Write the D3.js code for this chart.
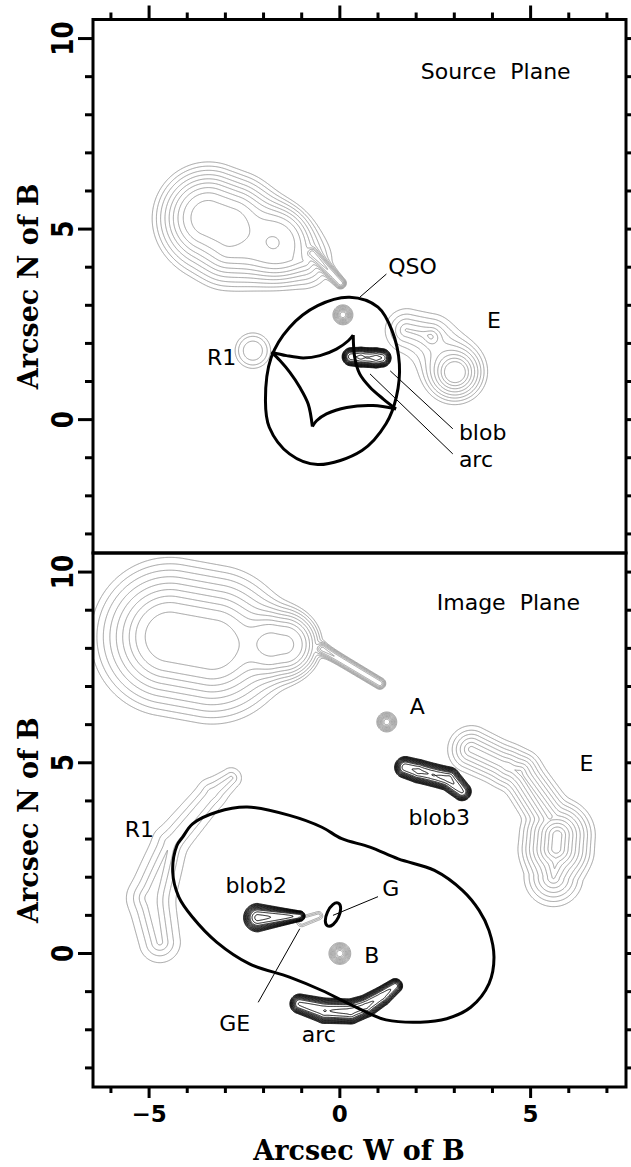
<!DOCTYPE html>
<html>
<head>
<meta charset="utf-8">
<script src="https://cdn.jsdelivr.net/npm/d3@7"></script>
<style>
body { margin: 0; background: #fff; }
svg { display: block; }
.lbl { font-family: "DejaVu Sans", sans-serif; font-size: 22px; fill: #000; }
.num { font-family: "DejaVu Sans", sans-serif; font-weight: bold; fill: #000; }
.title { font-family: "DejaVu Serif", serif; font-weight: bold; font-size: 27px; fill: #000; }
</style>
</head>
<body>
<div id="chart"></div>
<script>
// axis ticks
const xTicks = [-6, -5, -4, -3, -2, -1, 0, 1, 2, 3, 4, 5, 6, 7];
const xLabels = [-5, 0, 5];
const yTicks = [-3, -2, -1, 0, 1, 2, 3, 4, 5, 6, 7, 8, 9, 10];
const yLabels = [0, 5, 10];

// emission components, arcsec:
// [x1, y1, x2, y2, width1, width2, amp1, amp2, profile(1 = exponential, 2 = gaussian)]
// ---- source plane ----
const galaxySrc = [
  [-3.45, 5.3, -2.92, 5.1, 0.4, 0.4, 1.0, 1.0, 1],
  [-1.66, 4.69, -1.66, 4.69, 0.45, 0.45, 0.26, 0.26, 2],
  [-2.9, 4.4, -0.9, 4.15, 0.5, 0.5, 0.1, 0.1, 1],
  [-0.72, 4.37, 0.02, 3.58, 0.07, 0.07, 0.17, 0.17, 2]
];
const galaxySrcLevels = [0.0266, 0.035, 0.046, 0.061, 0.08, 0.105, 0.142, 0.2, 0.33];
const qsoSrc = [[0.08, 2.75, 0.08, 2.75, 0.11, 0.11, 1, 1, 2]];
const r1Src = [[-2.28, 1.81, -2.28, 1.81, 0.17, 0.17, 1, 1, 1]];
const r1SrcLevels = [0.065, 0.11, 0.23];
const eSrc = [
  [1.75, 2.35, 2.35, 2.2, 0.48, 0.48, 0.2, 0.2, 1],
  [2.42, 2.16, 2.42, 2.16, 0.12, 0.12, 0.06, 0.06, 2],
  [3.02, 1.24, 3.02, 1.24, 0.3, 0.3, 1.0, 1.0, 1]
];
const eSrcLevels = [0.063, 0.085, 0.111, 0.144, 0.189, 0.247, 0.322, 0.42];
const blobSrc = [
  [0.3, 1.65, 0.55, 1.64, 0.08, 0.085, 0.7, 0.9, 2],
  [0.55, 1.64, 0.72, 1.63, 0.085, 0.085, 0.9, 0.75, 2],
  [0.72, 1.63, 0.95, 1.62, 0.085, 0.085, 0.75, 1.0, 2],
  [0.95, 1.62, 1.1, 1.62, 0.085, 0.08, 1.0, 0.8, 2]
];

// ---- image plane ----
const galaxyImg = [
  [-4.45, 8.3, -3.35, 8.1, 0.62, 0.62, 1.0, 1.0, 1],
  [-1.72, 8.1, -1.42, 8.1, 0.42, 0.42, 0.36, 0.36, 2],
  [-0.45, 7.98, 1.05, 7.08, 0.085, 0.085, 0.17, 0.17, 2]
];
const galaxyImgLevels = [0.0346, 0.0454, 0.0595, 0.0785, 0.103, 0.135, 0.178, 0.234, 0.35];
const qsoA = [[1.23, 6.07, 1.23, 6.07, 0.11, 0.11, 1, 1, 2]];
const qsoB = [[0.0, 0.0, 0.0, 0.0, 0.12, 0.12, 1, 1, 2]];
const eImg = [
  [3.45, 5.35, 4.4, 4.9, 0.4, 0.38, 0.3, 0.3, 1],
  [4.4, 4.9, 4.72, 4.75, 0.38, 0.35, 0.3, 0.34, 1],
  [4.72, 4.75, 5.5, 3.6, 0.35, 0.36, 0.34, 0.38, 1],
  [5.7, 3.1, 5.67, 2.75, 0.36, 0.36, 1.0, 1.0, 1],
  [5.67, 2.6, 5.6, 2.0, 0.42, 0.45, 0.55, 0.35, 1]
];
const eImgLevels = [0.063, 0.085, 0.111, 0.144, 0.189, 0.247, 0.322, 0.42, 0.55, 0.72];
const r1Img = [
  [-4.72, 0.3, -4.95, 1.45, 0.26, 0.27, 0.8, 1.0, 1],
  [-4.95, 1.45, -4.45, 2.9, 0.27, 0.27, 1.0, 0.55, 1],
  [-4.45, 2.9, -3.35, 4.2, 0.27, 0.23, 0.55, 0.55, 1],
  [-3.35, 4.2, -2.85, 4.6, 0.23, 0.18, 0.55, 0.45, 1]
];
const r1ImgLevels = [0.1, 0.2, 0.35, 0.6];
const blob2 = [[-2.15, 0.94, -1.05, 0.98, 0.12, 0.05, 1.0, 0.35, 2]];
const blob3 = [
  [1.72, 4.88, 2.06, 4.78, 0.095, 0.1, 0.7, 0.9, 2],
  [2.06, 4.78, 2.45, 4.68, 0.1, 0.1, 0.9, 0.75, 2],
  [2.45, 4.68, 2.85, 4.58, 0.1, 0.1, 0.75, 1.0, 2],
  [2.85, 4.58, 3.2, 4.25, 0.1, 0.085, 1.0, 0.5, 2]
];
const geImg = [[-1.0, 0.84, -0.56, 0.99, 0.07, 0.06, 1.0, 0.8, 2]];
const geLevels = [0.15, 0.35, 0.6];
const arcImg = [
  [-1.05, -1.32, -0.4, -1.5, 0.09, 0.11, 0.5, 0.75, 2],
  [-0.4, -1.5, 0.28, -1.52, 0.11, 0.105, 0.75, 1.0, 2],
  [0.28, -1.52, 0.68, -1.38, 0.105, 0.095, 1.0, 0.95, 2],
  [0.68, -1.38, 1.1, -1.12, 0.095, 0.085, 0.95, 0.65, 2],
  [1.1, -1.12, 1.45, -0.85, 0.085, 0.07, 0.65, 0.35, 2]
];

const compactLevels = [0.06, 0.09, 0.13, 0.18, 0.25, 0.33, 0.42, 0.52, 0.65, 0.8];
const darkLevels = [0.008, 0.012, 0.018, 0.026, 0.038, 0.055, 0.08, 0.115, 0.165, 0.24, 0.45, 0.8];

// caustic (source plane): four cusped edges + outer oval
const causticEdges = [
  [[-1.79, 1.77], [-1.4, 1.68], [-0.96, 1.62], [-0.52, 1.68], [-0.09, 1.85], [0.22, 2.07], [0.35, 2.22]],
  [[0.35, 2.22], [0.39, 1.63], [0.52, 1.2], [0.79, 0.85], [1.14, 0.54], [1.47, 0.28]],
  [[1.47, 0.28], [0.87, 0.37], [0.18, 0.32], [-0.35, 0.15], [-0.61, -0.03], [-0.72, -0.18]],
  [[-0.72, -0.18], [-0.83, 0.41], [-1.05, 0.85], [-1.31, 1.24], [-1.57, 1.55], [-1.79, 1.77]]
];
const causticOval = [[0.26, 3.21], [1.0, 2.95], [1.37, 2.33], [1.56, 1.46], [1.48, 0.59], [1.21, -0.11],
  [0.58, -0.81], [-0.58, -1.18], [-1.32, -0.9], [-1.85, -0.2], [-1.95, 0.5], [-1.8, 1.63], [-1.32, 2.42], [-0.58, 2.99]];
// critical curve (image plane)
const criticalCurve = [[-2.43, 3.84], [-1.32, 3.62], [-0.47, 3.31], [0.05, 3.01], [0.79, 2.79], [1.53, 2.48],
  [2.48, 2.18], [3.22, 1.65], [3.65, 1.13], [3.91, 0.6], [4.04, -0.1], [3.91, -0.79], [3.43, -1.41], [2.8, -1.71],
  [2.11, -1.8], [1.21, -1.74], [0.79, -1.58], [0.16, -1.28], [-0.47, -0.97], [-1.32, -0.62], [-2.37, -0.27],
  [-3.23, 0.3], [-3.86, 0.95], [-4.22, 1.48], [-4.38, 2.13], [-4.27, 2.83], [-4.12, 3.05], [-3.86, 3.4], [-3.22, 3.71]];
// galaxy G outline: [x, y, rx, ry, tilt deg]
const galaxyG = [-0.18, 1.02, 0.16, 0.33, 25];

const labelsSrc = [["Source  Plane", 2.12, 8.95], ["QSO", 1.27, 3.83], ["E", 3.86, 2.4],
  ["R1", -3.48, 1.43], ["blob", 3.12, -0.54], ["arc", 3.12, -1.24]];
const labelsImg = [["Image  Plane", 2.54, 9.0], ["A", 1.83, 6.28], ["E", 6.28, 4.79], ["blob3", 1.8, 3.37],
  ["R1", -5.64, 3.05], ["blob2", -3.0, 1.59], ["G", 1.11, 1.51], ["B", 0.64, -0.26], ["GE", -3.16, -2.02], ["arc", -1.0, -2.31]];
const leadersSrc = [[0.52, 3.21, 1.22, 3.82], [1.32, 1.28, 2.96, -0.24], [0.79, 1.2, 2.96, -0.9]];
const leadersImg = [[-0.18, 1.0, 1.0, 1.49], [-1.05, 0.65, -2.14, -1.28]];

const GRAY = "#9e9e9e";

let svg = d3.select("#chart").append("svg").attr("width", 631).attr("height", 1167);

let x = d3.scaleLinear().domain([-6.47, 7.5]).range([93, 626]);
let yTop = d3.scaleLinear().domain([-3.5, 10.5]).range([553, 19.5]);
let yBot = d3.scaleLinear().domain([-3.5, 10.5]).range([1087, 553]);

let panels = [
  {id: "src", y: yTop, top: 19.5, bottom: 553,
   sets: [
     {comps: galaxySrc, levels: galaxySrcLevels, color: GRAY, p: 1},
     {comps: qsoSrc, levels: compactLevels, color: GRAY, p: 1},
     {comps: r1Src, levels: r1SrcLevels, color: GRAY, p: 1},
     {comps: eSrc, levels: eSrcLevels, color: GRAY, p: 1},
     {comps: blobSrc, levels: darkLevels, color: "#000", p: 8}
   ], labels: labelsSrc, leaders: leadersSrc},
  {id: "img", y: yBot, top: 553, bottom: 1087,
   sets: [
     {comps: galaxyImg, levels: galaxyImgLevels, color: GRAY, p: 1},
     {comps: qsoA, levels: compactLevels, color: GRAY, p: 1},
     {comps: qsoB, levels: compactLevels, color: GRAY, p: 1},
     {comps: eImg, levels: eImgLevels, color: GRAY, p: 8},
     {comps: r1Img, levels: r1ImgLevels, color: GRAY, p: 8},
     {comps: geImg, levels: geLevels, color: GRAY, p: 1},
     {comps: blob2, levels: darkLevels, color: "#000", p: 1},
     {comps: blob3, levels: darkLevels, color: "#000", p: 8},
     {comps: arcImg, levels: darkLevels, color: "#000", p: 8}
   ], labels: labelsImg, leaders: leadersImg}
];

function field(comps, p, px, py) {
  let v = 0;
  for (const [x1, y1, x2, y2, w1, w2, a1, a2, k] of comps) {
    let dx = x2 - x1, dy = y2 - y1, L2 = dx * dx + dy * dy;
    let t = L2 > 0 ? ((px - x1) * dx + (py - y1) * dy) / L2 : 0;
    t = Math.max(0, Math.min(1, t));
    let qx = x1 + t * dx, qy = y1 + t * dy;
    let d = Math.sqrt((px - qx) * (px - qx) + (py - qy) * (py - qy));
    let w = w1 + t * (w2 - w1), a = a1 + t * (a2 - a1);
    let f = k === 1 ? a * Math.exp(-d / w) : a * Math.exp(-0.5 * d * d / (w * w));
    v += Math.pow(f, p);
  }
  return Math.pow(v, 1 / p);
}

function contourSet(set) {
  const res = 0.02;
  let xmin = Infinity, xmax = -Infinity, ymin = Infinity, ymax = -Infinity;
  set.comps.forEach(c => {
    let pad = (c[8] === 1 ? 7 : 3.8) * Math.max(c[4], c[5]);
    xmin = Math.min(xmin, c[0] - pad, c[2] - pad); xmax = Math.max(xmax, c[0] + pad, c[2] + pad);
    ymin = Math.min(ymin, c[1] - pad, c[3] - pad); ymax = Math.max(ymax, c[1] + pad, c[3] + pad);
  });
  let nx = Math.ceil((xmax - xmin) / res) + 1, ny = Math.ceil((ymax - ymin) / res) + 1;
  let values = new Float64Array(nx * ny);
  for (let j = 0; j < ny; j++)
    for (let i = 0; i < nx; i++)
      values[j * nx + i] = field(set.comps, set.p, xmin + i * res, ymin + j * res);
  let cs = d3.contours().size([nx, ny]).thresholds(set.levels)(values);
  return {cs, xmin, ymin, res};
}

let defs = svg.append("defs");

panels.forEach(pn => {
  let y = pn.y;
  defs.append("clipPath").attr("id", "clip-" + pn.id)
    .append("rect").attr("x", 93).attr("y", pn.top).attr("width", 533).attr("height", pn.bottom - pn.top);
  let g = svg.append("g").attr("clip-path", "url(#clip-" + pn.id + ")");

  pn.sets.forEach(set => {
    let o = contourSet(set);
    let proj = d3.geoTransform({
      point: function(gx, gy) {
        this.stream.point(x(o.xmin + (gx - 0.5) * o.res), y(o.ymin + (gy - 0.5) * o.res));
      }
    });
    g.append("g").selectAll("path")
      .data(o.cs)
      .join("path")
      .attr("d", d3.geoPath(proj))
      .attr("fill", "none")
      .attr("stroke", set.color)
      .attr("stroke-width", set.color === GRAY ? 1 : 0.9);
  });

  let line = d3.line().x(d => x(d[0])).y(d => y(d[1]));
  if (pn.id === "src") {
    g.selectAll(".edge").data(causticEdges).join("path").attr("class", "edge")
      .attr("d", line.curve(d3.curveCatmullRom))
      .attr("fill", "none").attr("stroke", "#000").attr("stroke-width", 3).attr("stroke-linejoin", "round");
    g.append("path").datum(causticOval)
      .attr("d", d3.line().x(d => x(d[0])).y(d => y(d[1])).curve(d3.curveCatmullRomClosed))
      .attr("fill", "none").attr("stroke", "#000").attr("stroke-width", 3);
  } else {
    g.append("path").datum(criticalCurve)
      .attr("d", d3.line().x(d => x(d[0])).y(d => y(d[1])).curve(d3.curveCatmullRomClosed))
      .attr("fill", "none").attr("stroke", "#000").attr("stroke-width", 3);
    let sx = x(1) - x(0);
    g.append("ellipse")
      .attr("cx", x(galaxyG[0])).attr("cy", y(galaxyG[1]))
      .attr("rx", galaxyG[2] * sx).attr("ry", galaxyG[3] * sx)
      .attr("transform", `rotate(${galaxyG[4]},${x(galaxyG[0])},${y(galaxyG[1])})`)
      .attr("fill", "none").attr("stroke", "#000").attr("stroke-width", 3);
  }

  g.selectAll(".leader").data(pn.leaders).join("line").attr("class", "leader")
    .attr("x1", d => x(d[0])).attr("y1", d => y(d[1]))
    .attr("x2", d => x(d[2])).attr("y2", d => y(d[3]))
    .attr("stroke", "#000").attr("stroke-width", 1);

  g.selectAll(".lbl").data(pn.labels).join("text").attr("class", "lbl")
    .attr("x", d => x(d[1])).attr("y", d => y(d[2]))
    .attr("xml:space", "preserve")
    .text(d => d[0]);

  // frame
  svg.append("rect").attr("x", 93).attr("y", pn.top).attr("width", 533).attr("height", pn.bottom - pn.top)
    .attr("fill", "none").attr("stroke", "#000").attr("stroke-width", 3);

  // y ticks on both sides, outward
  yTicks.forEach(v => {
    let major = yLabels.includes(v);
    let len = major ? 15 : 8;
    svg.append("line").attr("x1", 93 - len).attr("x2", 93).attr("y1", y(v)).attr("y2", y(v))
      .attr("stroke", "#000").attr("stroke-width", 3);
    svg.append("line").attr("x1", 626).attr("x2", 626 + len).attr("y1", y(v)).attr("y2", y(v))
      .attr("stroke", "#000").attr("stroke-width", 3);
  });
  yLabels.forEach(v => {
    svg.append("text").attr("class", "num")
      .attr("transform", `translate(73,${y(v)}) rotate(-90) scale(0.82,1)`)
      .attr("text-anchor", "middle").style("font-size", "30px")
      .text(v);
  });

  // y title
  svg.append("text").attr("class", "title")
    .attr("transform", `translate(38,${(pn.top + pn.bottom) / 2}) rotate(-90)`)
    .attr("text-anchor", "middle")
    .text("Arcsec N of B");
});

// x ticks: top of upper panel, bottom of lower panel
xTicks.forEach(v => {
  let major = xLabels.includes(v);
  svg.append("line").attr("x1", x(v)).attr("x2", x(v)).attr("y1", 19.5 - (major ? 14 : 7)).attr("y2", 19.5)
    .attr("stroke", "#000").attr("stroke-width", 3);
  svg.append("line").attr("x1", x(v)).attr("x2", x(v)).attr("y1", 1087).attr("y2", 1087 + (major ? 11 : 6))
    .attr("stroke", "#000").attr("stroke-width", 3);
});
xLabels.forEach(v => {
  svg.append("text").attr("class", "num")
    .attr("x", x(v)).attr("y", 1122).attr("text-anchor", "middle").style("font-size", "23px")
    .text(v < 0 ? "\u2212" + Math.abs(v) : v);
});
svg.append("text").attr("class", "title")
  .attr("x", 359).attr("y", 1160).attr("text-anchor", "middle")
  .text("Arcsec W of B");
</script>
</body>
</html>
